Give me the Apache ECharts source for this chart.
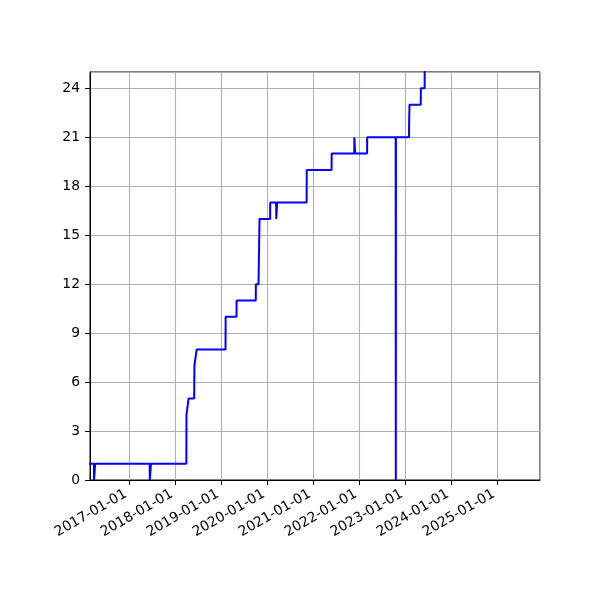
<!DOCTYPE html>
<html><head><meta charset="utf-8">
<script src="https://cdn.jsdelivr.net/npm/echarts@6/dist/echarts.min.js"></script>
<style>html,body{margin:0;padding:0;background:#fff}#c{width:600px;height:600px}</style>
</head><body><div id="c"></div>
<script>
const dates = [
  '2016-02-01','2016-03-26','2016-03-27','2016-04-04','2016-04-05',
  '2017-06-12','2017-06-13','2017-06-21','2017-06-22',
  '2018-03-30','2018-03-31','2018-04-17',
  '2018-05-31','2018-06-02','2018-06-20',
  '2019-02-04','2019-02-05',
  '2019-05-02','2019-05-03',
  '2019-10-02','2019-10-03',
  '2019-10-24','2019-10-26','2019-11-01',
  '2020-01-24','2020-01-25',
  '2020-03-12','2020-03-13','2020-03-19','2020-03-20',
  '2020-11-09','2020-11-10',
  '2021-05-26','2021-05-27',
  '2021-11-22','2021-11-23','2021-11-28','2021-11-29',
  '2022-03-04','2022-03-05',
  '2022-10-17','2022-10-18','2022-10-19',
  '2023-01-31','2023-02-01','2023-02-04',
  '2023-05-04','2023-05-05',
  '2023-06-04','2023-06-05'
];
const values = [
  1,1,0,0,1,
  1,0,0,1,
  1,4,5,
  5,7,8,
  8,10,
  10,11,
  11,12,
  12,13,16,
  16,17,
  17,16,16,17,
  17,19,
  19,20,
  20,21,21,20,
  20,21,
  21,0,21,
  21,22,23,
  23,24,
  24,27
];
const yTicks = [0,3,6,9,12,15,18,21,24];
const xMin = '2016-02-24';
const xMax = '2025-12-06';

const chart = echarts.init(document.getElementById('c'), null, {renderer:'canvas'});
const font = 'DejaVu Sans';
const DAY = 86400000;
chart.setOption({
  animation: false,
  grid: {left: 90, right: 60, top: 72, bottom: 120, show: true, borderColor: '#000', borderWidth: 1, backgroundColor: 'transparent'},
  xAxis: {
    type: 'time',
    min: xMin, max: xMax,
    minInterval: 365*DAY, maxInterval: 366*DAY,
    axisLine: {lineStyle: {color: '#000', width: 1}},
    axisTick: {show: true, length: 5, inside: false, lineStyle: {color: '#000'}},
    splitLine: {show: true, lineStyle: {color: '#b0b0b0', width: 1.1}},
    axisLabel: {formatter: '{yyyy}-{MM}-{dd}', rotate: 30, color: '#000', fontFamily: font, fontSize: 13.9, margin: 11, padding: [0, 4, 0, 0], showMinLabel: false, showMaxLabel: false, hideOverlap: false}
  },
  yAxis: {
    type: 'value', min: 0, max: 25, interval: 3,
    axisLine: {show: true, lineStyle: {color: '#000', width: 1}},
    axisTick: {show: true, length: 5, inside: false, lineStyle: {color: '#000'}},
    splitLine: {show: true, lineStyle: {color: '#b0b0b0', width: 1.1}},
    axisLabel: {color: '#000', fontFamily: font, fontSize: 13.9, margin: 10, showMaxLabel: false,
      formatter: v => yTicks.includes(v) ? String(v) : ''}
  },
  series: [{
    type: 'line',
    data: dates.map((d, i) => [d, values[i]]),
    showSymbol: false,
    clip: true,
    lineStyle: {color: '#0000ff', width: 2},
    itemStyle: {color: '#0000ff'}
  }]
});
</script></body></html>
